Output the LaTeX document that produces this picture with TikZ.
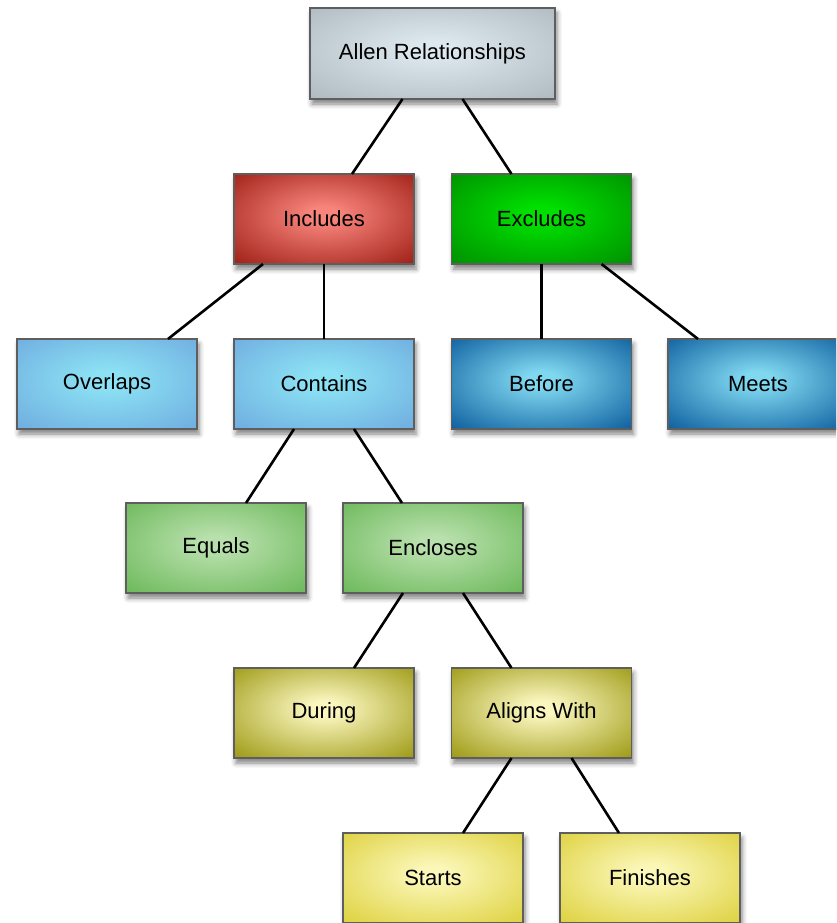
\documentclass[tikz,border=0pt]{standalone}
\usepackage{fontspec}
\setmainfont{Liberation Sans}
\usetikzlibrary{shadows.blur}
\definecolor{rootI}{HTML}{DCE7EE}\definecolor{rootO}{HTML}{ACB8BE}
\definecolor{incI}{HTML}{F8847C}\definecolor{incO}{HTML}{9A1A10}
\definecolor{excI}{HTML}{00E000}\definecolor{excO}{HTML}{008C00}
\definecolor{ovlI}{HTML}{8CE2F4}\definecolor{ovlO}{HTML}{6EAADF}
\definecolor{befI}{HTML}{80D8F0}\definecolor{befO}{HTML}{08589A}
\definecolor{equI}{HTML}{B8E0AC}\definecolor{equO}{HTML}{68B656}
\definecolor{durI}{HTML}{FAF6BE}\definecolor{durO}{HTML}{98940A}
\definecolor{staI}{HTML}{FBF7B8}\definecolor{staO}{HTML}{DCCF38}
\definecolor{edgeC}{HTML}{5E5E5E}
\newcommand\mkshade[3]{\pgfdeclareradialshading{#1}{\pgfpoint{0bp}{3bp}}{color(0bp)=(#2); color(4bp)=(#2); color(38bp)=(#3); color(60bp)=(#3)}}
\mkshade{shroot}{rootI}{rootO}
\mkshade{shinc}{incI}{incO}
\mkshade{shexc}{excI}{excO}
\mkshade{shovl}{ovlI}{ovlO}
\mkshade{shbef}{befI}{befO}
\mkshade{shequ}{equI}{equO}
\mkshade{shdur}{durI}{durO}
\mkshade{shsta}{staI}{staO}
\tikzset{
  box/.style={draw=edgeC, line width=1.6pt, minimum width=180pt, minimum height=90pt,
    inner sep=0pt, outer sep=0pt, font=\fontsize{22}{26}\selectfont,
    blur shadow={shadow xshift=2pt, shadow yshift=-5pt, shadow blur radius=5pt, shadow opacity=50}},
  fillc/.style={shading=#1},
  link/.style={line width=2.6pt, black},
}
\begin{document}
\begin{tikzpicture}[x=1pt,y=-1pt]
\useasboundingbox (0,0) rectangle (836,923);
\clip (0,0) rectangle (836,923);
\node[box, fillc=shroot, minimum width=245pt, minimum height=91pt] (root) at (432.5,53.5) {Allen Relationships};
\node[box, fillc=shinc] (inc) at (324,219) {Includes};
\node[box, fillc=shexc] (exc) at (541.5,219) {Excludes};
\node[box, fillc=shovl] (ovl) at (107,384) {Overlaps};
\node[box, fillc=shovl] (con) at (324,384) {Contains};
\node[box, fillc=shbef] (bef) at (541.5,384) {Before};
\node[box, fillc=shbef] (mee) at (758,384) {Meets};
\node[box, fillc=shequ] (equ) at (216,548) {Equals};
\node[box, fillc=shequ] (enc) at (433,548) {Encloses};
\node[box, fillc=shdur] (dur) at (324,713) {During};
\node[box, fillc=shdur] (ali) at (541.5,713) {Aligns With};
\node[box, fillc=shsta] (sta) at (433,878) {Starts};
\node[box, fillc=shsta] (fin) at (650,878) {Finishes};
\draw[link] ([xshift=-30pt]root.south) -- ([xshift=28pt]inc.north);
\draw[link] ([xshift=30pt]root.south) -- ([xshift=-30pt]exc.north);
\draw[link] ([xshift=-61pt]inc.south) -- ([xshift=61pt]ovl.north);
\draw[link] (inc.south) -- (con.north);
\draw[link] (exc.south) -- (bef.north);
\draw[link] ([xshift=60pt]exc.south) -- ([xshift=-60pt]mee.north);
\draw[link] ([xshift=-30pt]con.south) -- ([xshift=30pt]equ.north);
\draw[link] ([xshift=30pt]con.south) -- ([xshift=-31pt]enc.north);
\draw[link] ([xshift=-30pt]enc.south) -- ([xshift=30pt]dur.north);
\draw[link] ([xshift=30pt]enc.south) -- ([xshift=-30pt]ali.north);
\draw[link] ([xshift=-30pt]ali.south) -- ([xshift=30pt]sta.north);
\draw[link] ([xshift=30pt]ali.south) -- ([xshift=-31pt]fin.north);
\end{tikzpicture}
\end{document}
